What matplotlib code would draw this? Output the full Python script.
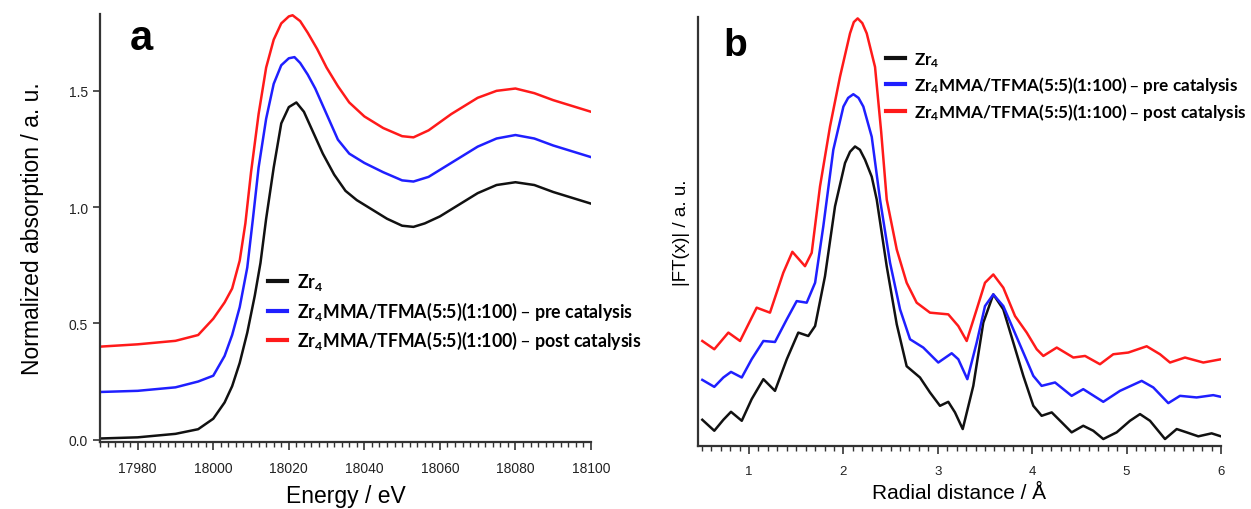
import matplotlib
matplotlib.use("Agg")
import matplotlib.pyplot as plt
from matplotlib.ticker import MultipleLocator

plt.rcParams['font.family'] = ['Liberation Sans', 'DejaVu Sans']
plt.rcParams['mathtext.default'] = 'regular'

# ---------------- data: panel a (XANES) ----------------
energy_black = [17970, 17980, 17990, 17996, 18000, 18003, 18005, 18007, 18009, 18011, 18012.5, 18014, 18016,
                18018, 18020, 18022, 18024, 18026.5, 18029, 18032, 18035, 18038, 18042, 18046, 18050, 18053,
                18056, 18060, 18065, 18070, 18075, 18080, 18085, 18090, 18095, 18100]
abs_black = [0.005, 0.01, 0.025, 0.045, 0.09, 0.16, 0.23, 0.33, 0.46, 0.62, 0.76, 0.95, 1.17,
             1.36, 1.43, 1.45, 1.41, 1.32, 1.23, 1.14, 1.07, 1.03, 0.99, 0.95, 0.92, 0.915,
             0.93, 0.96, 1.01, 1.06, 1.095, 1.107, 1.095, 1.065, 1.04, 1.015]

energy_blue = [17970, 17980, 17990, 17996, 18000, 18003, 18005, 18007, 18009, 18010.5, 18012, 18014, 18016,
               18018, 18020, 18021.5, 18023, 18025, 18027, 18030, 18033, 18036, 18040, 18045, 18050, 18053,
               18057, 18063, 18070, 18075, 18080, 18085, 18090, 18095, 18100]
abs_blue = [0.205, 0.21, 0.225, 0.25, 0.275, 0.36, 0.45, 0.57, 0.74, 0.95, 1.17, 1.38, 1.53,
            1.61, 1.64, 1.645, 1.62, 1.57, 1.51, 1.40, 1.29, 1.23, 1.19, 1.15, 1.115, 1.11,
            1.13, 1.19, 1.26, 1.295, 1.31, 1.295, 1.265, 1.24, 1.215]

energy_red = [17970, 17980, 17990, 17996, 18000, 18003, 18005, 18007, 18008.5, 18010, 18012, 18014, 18016,
              18018, 18020, 18021, 18023, 18025, 18027.5, 18030, 18033, 18036, 18040, 18045, 18050, 18053,
              18057, 18063, 18070, 18075, 18080, 18085, 18090, 18095, 18100]
abs_red = [0.40, 0.41, 0.425, 0.45, 0.52, 0.59, 0.65, 0.77, 0.93, 1.15, 1.40, 1.60, 1.72,
           1.79, 1.82, 1.825, 1.80, 1.75, 1.68, 1.60, 1.52, 1.45, 1.39, 1.34, 1.305, 1.30,
           1.33, 1.40, 1.47, 1.50, 1.51, 1.49, 1.46, 1.435, 1.41]

# ---------------- data: panel b (EXAFS FT, arbitrary units) ----------------
r_black = [0.505, 0.632, 0.728, 0.809, 0.923, 1.028, 1.152, 1.275, 1.40, 1.522, 1.628, 1.70, 1.805, 1.911,
           2.017, 2.07, 2.123, 2.175, 2.229, 2.30, 2.353, 2.459, 2.565, 2.67, 2.811, 2.917, 3.023, 3.111,
           3.182, 3.264, 3.376, 3.482, 3.588, 3.694, 3.80, 3.906, 4.012, 4.10, 4.207, 4.313, 4.418, 4.541,
           4.647, 4.753, 4.895, 5.036, 5.142, 5.248, 5.407, 5.531, 5.636, 5.76, 5.901, 6.0]
ft_black = [0.263, 0.153, 0.263, 0.343, 0.253, 0.47, 0.67, 0.553, 0.87, 1.137, 1.103, 1.203, 1.703, 2.403,
            2.837, 2.95, 3.003, 2.97, 2.87, 2.70, 2.47, 1.80, 1.22, 0.80, 0.687, 0.537, 0.403, 0.443,
            0.337, 0.17, 0.603, 1.237, 1.52, 1.37, 1.037, 0.703, 0.403, 0.303, 0.337, 0.237, 0.137, 0.203,
            0.153, 0.07, 0.137, 0.253, 0.32, 0.253, 0.07, 0.17, 0.137, 0.097, 0.127, 0.097]

r_blue = [0.505, 0.632, 0.728, 0.809, 0.923, 1.028, 1.152, 1.275, 1.40, 1.505, 1.611, 1.70, 1.787, 1.893,
          2.0, 2.05, 2.105, 2.16, 2.211, 2.30, 2.388, 2.494, 2.60, 2.706, 2.846, 3.005, 3.147, 3.217,
          3.313, 3.412, 3.50, 3.588, 3.694, 3.80, 3.906, 4.012, 4.10, 4.242, 4.418, 4.541, 4.753, 4.93,
          5.16, 5.283, 5.442, 5.566, 5.742, 5.918, 6.0]
ft_blue = [0.663, 0.593, 0.687, 0.743, 0.687, 0.87, 1.053, 1.043, 1.27, 1.453, 1.437, 1.637, 2.203, 2.97,
           3.403, 3.49, 3.527, 3.49, 3.403, 3.10, 2.47, 1.837, 1.37, 1.07, 0.987, 0.837, 0.93, 0.87,
           0.67, 1.037, 1.403, 1.52, 1.403, 1.17, 0.937, 0.703, 0.603, 0.637, 0.503, 0.57, 0.443, 0.553,
           0.653, 0.587, 0.43, 0.503, 0.487, 0.51, 0.493]

r_red = [0.505, 0.632, 0.781, 0.905, 1.081, 1.222, 1.363, 1.459, 1.593, 1.664, 1.752, 1.858, 1.964, 2.07,
         2.11, 2.151, 2.20, 2.247, 2.335, 2.40, 2.459, 2.565, 2.67, 2.776, 2.917, 3.111, 3.217, 3.306,
         3.412, 3.50, 3.588, 3.694, 3.818, 3.942, 4.048, 4.118, 4.26, 4.436, 4.56, 4.718, 4.859, 5.018,
         5.213, 5.354, 5.46, 5.619, 5.813, 6.0]
ft_red = [1.053, 0.97, 1.137, 1.053, 1.387, 1.337, 1.737, 1.947, 1.803, 1.937, 2.603, 3.203, 3.703, 4.137,
          4.25, 4.287, 4.24, 4.137, 3.80, 3.15, 2.47, 1.97, 1.637, 1.437, 1.337, 1.32, 1.203, 1.053,
          1.37, 1.637, 1.72, 1.587, 1.303, 1.137, 0.97, 0.903, 0.987, 0.887, 0.903, 0.82, 0.92, 0.937,
          1.0, 0.92, 0.837, 0.887, 0.837, 0.87]

labels = ["Zr$_4$",
          "Zr$_4$MMA/TFMA(5:5)(1:100) – pre catalysis",
          "Zr$_4$MMA/TFMA(5:5)(1:100) – post catalysis"]
colors = ["#111111", "#1f1fff", "#ff1a1a"]

fig = plt.figure(figsize=(12.51, 5.10), dpi=100)
axa = fig.add_axes([0.0799, 0.1314, 0.3925, 0.839])
axb = fig.add_axes([0.558, 0.1235, 0.418, 0.841])

spine_col = "#333333"
for ax in (axa, axb):
    for s in ("top", "right"):
        ax.spines[s].set_visible(False)
    for s in ("left", "bottom"):
        ax.spines[s].set_linewidth(1.6)
        ax.spines[s].set_color(spine_col)
    ax.tick_params(which="both", direction="out", colors=spine_col, labelcolor="#222222")

leg_prop = {"family": ["Lato", "DejaVu Sans"], "weight": "bold"}

# panel a
axa.plot(energy_black, abs_black, color=colors[0], lw=1.8, label=labels[0])
axa.plot(energy_blue, abs_blue, color=colors[1], lw=1.8, label=labels[1])
axa.plot(energy_red, abs_red, color=colors[2], lw=1.8, label=labels[2])
axa.set_xlim(17970, 18100)
axa.set_ylim(-0.01, 1.83)
axa.xaxis.set_major_locator(MultipleLocator(20))
axa.xaxis.set_minor_locator(MultipleLocator(2))
axa.yaxis.set_major_locator(MultipleLocator(0.5))
axa.yaxis.set_major_formatter(plt.FormatStrFormatter("%.1f"))
axa.tick_params(axis="x", which="major", length=6, width=1.2, labelsize=10, pad=8)
axa.tick_params(axis="x", which="minor", length=3.5, width=1.0)
axa.tick_params(axis="y", which="major", length=5, width=1.2, labelsize=10)
axa.set_xlabel("Energy / eV", fontsize=16.5, labelpad=6)
axa.set_ylabel("Normalized absorption / a. u.", fontsize=16.5, labelpad=18)
axa.text(0.061, 0.945, "a", transform=axa.transAxes, fontsize=30, fontweight="bold",
         family=["Liberation Sans"], va="center", ha="left")
leg_a = axa.legend(loc="upper left", bbox_to_anchor=(0.342, 0.399), frameon=False,
                   prop=dict(leg_prop, size=12.8),
                   handlelength=1.1, handletextpad=0.55, labelspacing=0.42, borderpad=0, borderaxespad=0)
for h in leg_a.get_lines():
    h.set_linewidth(3)

# panel b
axb.plot(r_black, ft_black, color=colors[0], lw=1.8, label=labels[0])
axb.plot(r_blue, ft_blue, color=colors[1], lw=1.8, label=labels[1])
axb.plot(r_red, ft_red, color=colors[2], lw=1.8, label=labels[2])
axb.set_xlim(0.46, 6.0)
axb.set_ylim(0, 4.30)
axb.xaxis.set_major_locator(MultipleLocator(1))
axb.xaxis.set_minor_locator(MultipleLocator(0.1))
axb.set_yticks([])
axb.tick_params(axis="x", which="major", length=6, width=1.2, labelsize=9.5, pad=8)
axb.tick_params(axis="x", which="minor", length=3.5, width=1.0)
axb.set_xlabel("Radial distance / Å", fontsize=15, labelpad=4)
axb.set_ylabel("|FT(x)| / a. u.", fontsize=13.5, labelpad=6)
axb.text(0.048, 0.935, "b", transform=axb.transAxes, fontsize=28, fontweight="bold",
         family=["Liberation Sans"], va="center", ha="left")
leg_b = axb.legend(loc="upper left", bbox_to_anchor=(0.359, 0.923), frameon=False,
                   prop=dict(leg_prop, size=12.3),
                   handlelength=1.1, handletextpad=0.55, labelspacing=0.32, borderpad=0, borderaxespad=0)
for h in leg_b.get_lines():
    h.set_linewidth(3)

fig.savefig("out.png", dpi=100)
